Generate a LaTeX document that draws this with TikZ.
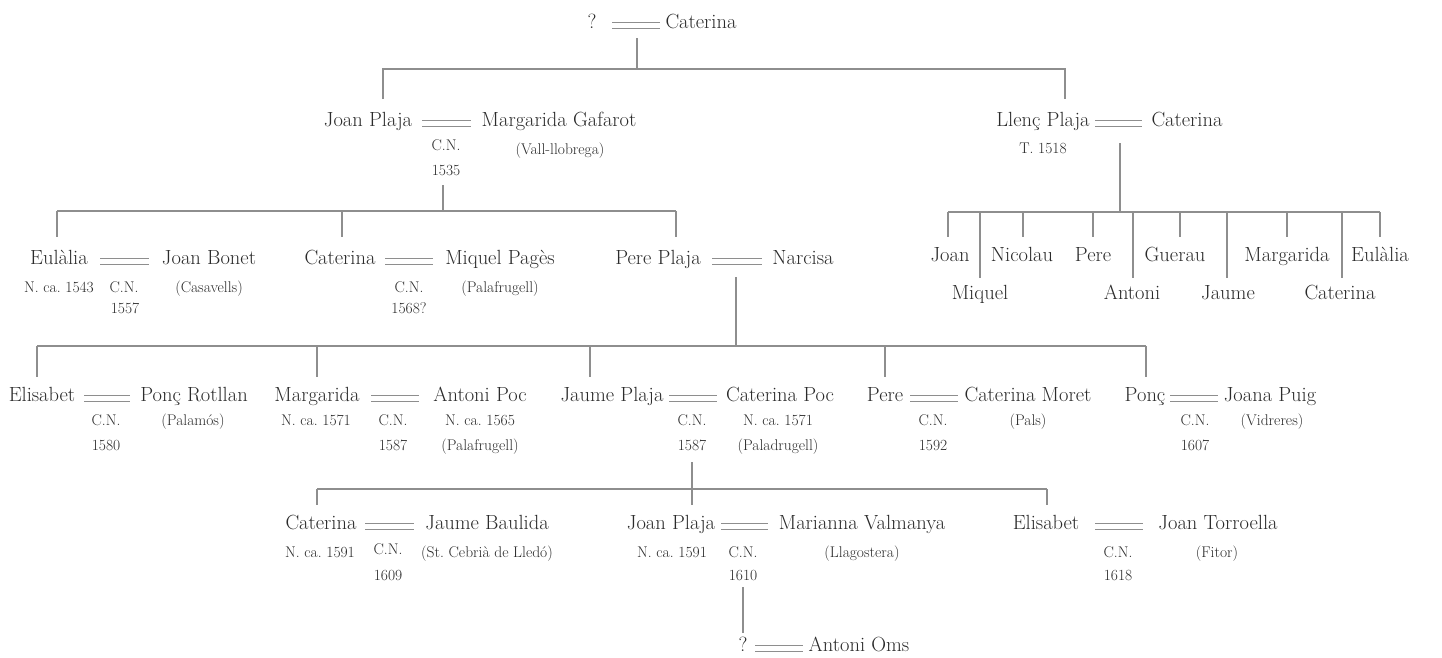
\documentclass[tikz,border=0pt]{standalone}
\usepackage{fontspec}
\frenchspacing
\definecolor{txt}{HTML}{2B2B2B}
\definecolor{ln}{HTML}{8E8E8E}
\begin{document}
\begin{tikzpicture}[x=1pt,y=-1pt,
  nm/.style={font=\fontsize{20.5}{22}\selectfont, text=txt, inner sep=0pt, anchor=base},
  sm/.style={font=\fontsize{15.5}{17}\selectfont, text=txt, inner sep=0pt, anchor=base},
  lnk/.style={draw=ln, line width=1.8pt},
  marr/.style={draw=ln, line width=1.4pt, double=white, double distance=4.2pt}]
\useasboundingbox[fill=white] (0,0) rectangle (1442,657);

% ---------- Row 0
\node[nm] (q0) at (592,28) {?};
\node[nm] (cat0) at (701,28) {Caterina};
\coordinate (m0a) at (612,25.5); \coordinate (m0b) at (660,25.5);
\draw[marr] (m0a) -- (m0b);
\coordinate (d0a) at (637,38); \coordinate (d0b) at (637,69);
\draw[lnk] (d0a) -- (d0b);
\coordinate (b0l) at (383,99); \coordinate (b0r) at (1065,99);
\draw[lnk] (b0l) -- (b0l |- d0b) -- (b0r |- d0b) -- (b0r);

% ---------- Row 1 left
\node[nm] (jp1) at (368,126) {Joan Plaja};
\node[nm] (mg1) at (559,126) {Margarida Gafarot};
\coordinate (m1a) at (422,123.5); \coordinate (m1b) at (471,123.5);
\draw[marr] (m1a) -- (m1b);
\node[sm] (cn1) at (446,150) {C.N.};
\node[sm] (y1) at (446,175) {1535};
\node[sm] (vl1) at (560,154) {(Vall-llobrega)};
\coordinate (d1a) at (443,185); \coordinate (d1b) at (443,211);
\draw[lnk] (d1a) -- (d1b);

% ---------- Row 1 right
\node[nm] (lp1) at (1043,126) {Llenç Plaja};
\node[nm] (ct1) at (1187,126) {Caterina};
\coordinate (m1c) at (1095,123.5); \coordinate (m1d) at (1142,123.5);
\draw[marr] (m1c) -- (m1d);
\node[sm] (t1) at (1043,153) {T. 1518};
\coordinate (d1c) at (1120,143); \coordinate (d1d) at (1120,212);
\draw[lnk] (d1c) -- (d1d);

% children of Llenç
\coordinate (cb) at (0,212);
\draw[lnk] (948,212) -- (1380,212);
\foreach \xx/\lab in {948/cjoan,1023/cnic,1093/cpere,1180/cguer,1287/cmarg,1380/ceul}{
  \coordinate (\lab) at (\xx,237);
  \draw[lnk] (\lab |- cb) -- (\lab);}
\foreach \xx/\lab in {980/cmiq,1133/cant,1227/cjau,1342/ccat}{
  \coordinate (\lab) at (\xx,278);
  \draw[lnk] (\lab |- cb) -- (\lab);}
\node[nm] (k1) at (950,261) {Joan};
\node[nm] (k3) at (1022,261) {Nicolau};
\node[nm] (k4) at (1093,261) {Pere};
\node[nm] (k6) at (1175,261) {Guerau};
\node[nm] (k8) at (1287,261) {Margarida};
\node[nm] (k10) at (1380,261) {Eulàlia};
\node[nm] (k2) at (980,299) {Miquel};
\node[nm] (k5) at (1132,299) {Antoni};
\node[nm] (k7) at (1228,299) {Jaume};
\node[nm] (k9) at (1340,299) {Caterina};

% ---------- Row 2
\coordinate (b2) at (0,211);
\draw[lnk] (57,211) -- (676,211);
\foreach \xx/\lab in {57/s2a,342/s2b,676/s2c}{
  \coordinate (\lab) at (\xx,237);
  \draw[lnk] (\lab |- b2) -- (\lab);}
\node[nm] (eu2) at (59,264) {Eulàlia};
\node[nm] (jb2) at (209,264) {Joan Bonet};
\coordinate (m2a) at (100,261.5); \coordinate (m2b) at (149,261.5);
\draw[marr] (m2a) -- (m2b);
\node[sm] (n2a) at (59,292) {N. ca. 1543};
\node[sm] (cn2a) at (124,292) {C.N.};
\node[sm] (y2a) at (125,313) {1557};
\node[sm] (pl2a) at (209,292) {(Casavells)};

\node[nm] (ca2) at (340,264) {Caterina};
\node[nm] (mp2) at (500,264) {Miquel Pagès};
\coordinate (m2c) at (385,261.5); \coordinate (m2d) at (433,261.5);
\draw[marr] (m2c) -- (m2d);
\node[sm] (cn2b) at (409,292) {C.N.};
\node[sm] (y2b) at (409,313) {1568?};
\node[sm] (pl2b) at (500,292) {(Palafrugell)};

\node[nm] (pp2) at (658,264) {Pere Plaja};
\node[nm] (na2) at (803,264) {Narcisa};
\coordinate (m2e) at (712,261.5); \coordinate (m2f) at (762,261.5);
\draw[marr] (m2e) -- (m2f);
\coordinate (d2a) at (736,277); \coordinate (d2b) at (736,346);
\draw[lnk] (d2a) -- (d2b);

% ---------- Row 3
\coordinate (b3) at (0,346);
\draw[lnk] (37,346) -- (1146,346);
\foreach \xx/\lab in {37/s3a,317/s3b,590/s3c,885/s3d,1146/s3e}{
  \coordinate (\lab) at (\xx,377);
  \draw[lnk] (\lab |- b3) -- (\lab);}
\node[nm] (el3) at (42,401) {Elisabet};
\node[nm] (pr3) at (194,401) {Ponç Rotllan};
\coordinate (m3a) at (84,398.5); \coordinate (m3b) at (130,398.5);
\draw[marr] (m3a) -- (m3b);
\node[sm] (cn3a) at (106,425) {C.N.};
\node[sm] (y3a) at (106,450) {1580};
\node[sm] (pl3a) at (193,425) {(Palamós)};

\node[nm] (ma3) at (317,401) {Margarida};
\node[nm] (ap3) at (480,401) {Antoni Poc};
\coordinate (m3c) at (371,398.5); \coordinate (m3d) at (419,398.5);
\draw[marr] (m3c) -- (m3d);
\node[sm] (n3b) at (316,425) {N. ca. 1571};
\node[sm] (cn3b) at (393,425) {C.N.};
\node[sm] (y3b) at (393,450) {1587};
\node[sm] (n3c) at (480,425) {N. ca. 1565};
\node[sm] (pl3b) at (480,450) {(Palafrugell)};

\node[nm] (jp3) at (612,401) {Jaume Plaja};
\node[nm] (cp3) at (780,401) {Caterina Poc};
\coordinate (m3e) at (669,398.5); \coordinate (m3f) at (717,398.5);
\draw[marr] (m3e) -- (m3f);
\node[sm] (cn3c) at (692,425) {C.N.};
\node[sm] (y3c) at (692,450) {1587};
\node[sm] (n3d) at (778,425) {N. ca. 1571};
\node[sm] (pl3c) at (778,450) {(Paladrugell)};
\coordinate (d3a) at (692,462); \coordinate (d3b) at (692,505);
\draw[lnk] (d3a) -- (d3b);

\node[nm] (pe3) at (885,401) {Pere};
\node[nm] (cm3) at (1028,401) {Caterina Moret};
\coordinate (m3g) at (910,398.5); \coordinate (m3h) at (958,398.5);
\draw[marr] (m3g) -- (m3h);
\node[sm] (cn3d) at (933,425) {C.N.};
\node[sm] (y3d) at (933,450) {1592};
\node[sm] (pl3d) at (1028,425) {(Pals)};

\node[nm] (po3) at (1145,401) {Ponç};
\node[nm] (jo3) at (1270,401) {Joana Puig};
\coordinate (m3i) at (1170,398.5); \coordinate (m3j) at (1218,398.5);
\draw[marr] (m3i) -- (m3j);
\node[sm] (cn3e) at (1195,425) {C.N.};
\node[sm] (y3e) at (1195,450) {1607};
\node[sm] (pl3e) at (1272,425) {(Vidreres)};

% ---------- Row 4
\coordinate (b4) at (0,489);
\draw[lnk] (317,489) -- (1047,489);
\foreach \xx/\lab in {317/s4a,1047/s4c}{
  \coordinate (\lab) at (\xx,505);
  \draw[lnk] (\lab |- b4) -- (\lab);}
\node[nm] (ca4) at (321,529) {Caterina};
\node[nm] (jb4) at (487,529) {Jaume Baulida};
\coordinate (m4a) at (365,526.5); \coordinate (m4b) at (414,526.5);
\draw[marr] (m4a) -- (m4b);
\node[sm] (n4a) at (320,557) {N. ca. 1591};
\node[sm] (cn4a) at (388,554) {C.N.};
\node[sm] (y4a) at (388,580) {1609};
\node[sm] (pl4a) at (487,557) {(St. Cebrià de Lledó)};

\node[nm] (jp4) at (671,529) {Joan Plaja};
\node[nm] (mv4) at (862,529) {Marianna Valmanya};
\coordinate (m4c) at (721,526.5); \coordinate (m4d) at (768,526.5);
\draw[marr] (m4c) -- (m4d);
\node[sm] (n4b) at (672,557) {N. ca. 1591};
\node[sm] (cn4b) at (743,557) {C.N.};
\node[sm] (y4b) at (743,580) {1610};
\node[sm] (pl4b) at (862,557) {(Llagostera)};
\coordinate (d4a) at (743,587); \coordinate (d4b) at (743,633);
\draw[lnk] (d4a) -- (d4b);

\node[nm] (el4) at (1046,529) {Elisabet};
\node[nm] (jt4) at (1218,529) {Joan Torroella};
\coordinate (m4e) at (1095,526.5); \coordinate (m4f) at (1143,526.5);
\draw[marr] (m4e) -- (m4f);
\node[sm] (cn4c) at (1118,557) {C.N.};
\node[sm] (y4c) at (1118,580) {1618};
\node[sm] (pl4c) at (1217,557) {(Fitor)};

% ---------- Row 5
\node[nm] (q5) at (743,651) {?};
\node[nm] (ao5) at (859,651) {Antoni Oms};
\coordinate (m5a) at (755,648.5); \coordinate (m5b) at (803,648.5);
\draw[marr] (m5a) -- (m5b);
\end{tikzpicture}
\end{document}
